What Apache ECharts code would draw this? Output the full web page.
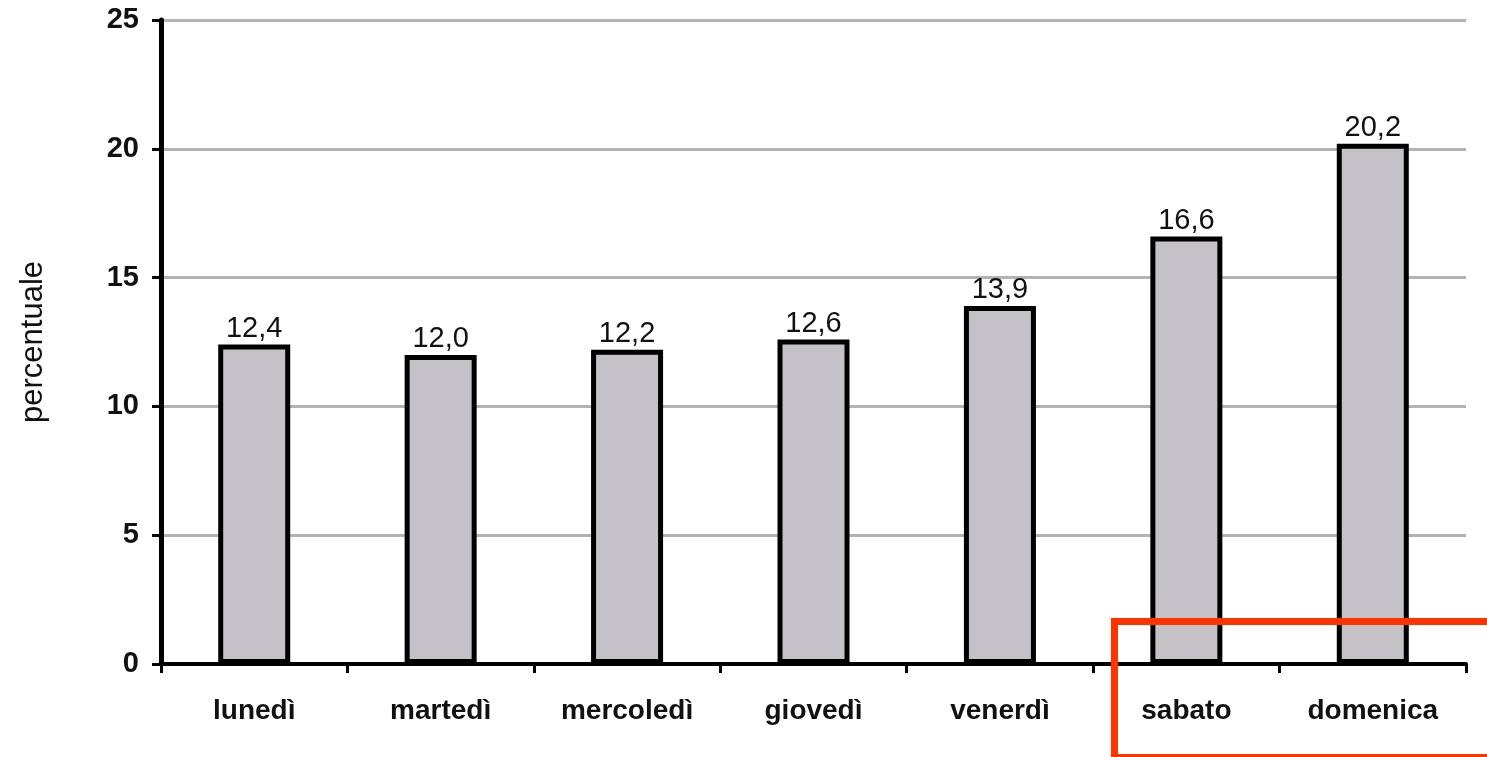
<!DOCTYPE html>
<html>
<head>
<meta charset="utf-8">
<script src="https://cdn.jsdelivr.net/npm/echarts@6/dist/echarts.min.js"></script>
<style>
  html, body { margin: 0; padding: 0; background: #fff; }
  #chart { width: 1487px; height: 757px; }
</style>
</head>
<body>
<div id="chart"></div>
<script>
// days of the week and percentages
const giorni = ['lunedì', 'martedì', 'mercoledì', 'giovedì', 'venerdì', 'sabato', 'domenica']
const percentuali = [12.4, 12.0, 12.2, 12.6, 13.9, 16.6, 20.2]

const chart = echarts.init(document.querySelector('#chart'))

const FONT = 'Liberation Sans, Arial, sans-serif'

const option = {
  animation: false,
  grid: { left: 161, right: 21, top: 20, bottom: 93 },
  xAxis: {
    type: 'category',
    data: giorni,
    axisLine: { lineStyle: { color: '#000', width: 4 } },
    axisTick: { show: true, length: 9, lineStyle: { color: '#000', width: 3 } },
    axisLabel: {
      margin: 33,
      color: '#111',
      fontFamily: FONT,
      fontWeight: 'bold',
      fontSize: 28
    }
  },
  yAxis: {
    type: 'value',
    min: 0,
    max: 25,
    interval: 5,
    name: 'percentuale',
    nameLocation: 'middle',
    nameRotate: 90,
    nameGap: 112,
    nameTextStyle: {
      color: '#111',
      fontFamily: FONT,
      fontSize: 31
    },
    axisLine: { show: true, lineStyle: { color: '#000', width: 5 } },
    axisTick: { show: true, length: 9, lineStyle: { color: '#000', width: 3 } },
    axisLabel: {
      margin: 22,
      color: '#111',
      fontFamily: FONT,
      fontWeight: 'bold',
      fontSize: 29
    },
    splitLine: { lineStyle: { color: '#b3b3b3', width: 3 } }
  },
  series: [
    {
      type: 'bar',
      data: percentuali,
      barWidth: 72,
      itemStyle: { color: '#c4c2c6', borderColor: '#000', borderWidth: 5 },
      label: {
        show: true,
        position: 'top',
        distance: 1,
        color: '#111',
        fontFamily: FONT,
        fontSize: 29,
        formatter: p => p.value.toFixed(1).replace('.', ',')
      }
    }
  ],
  // red highlight box around the weekend
  graphic: [
    {
      type: 'rect',
      left: 1111,
      top: 618,
      shape: { width: 390, height: 136 },
      style: { fill: 'none', stroke: '#ff3300', lineWidth: 7 },
      z: 100
    }
  ]
}

chart.setOption(option)
</script>
</body>
</html>
